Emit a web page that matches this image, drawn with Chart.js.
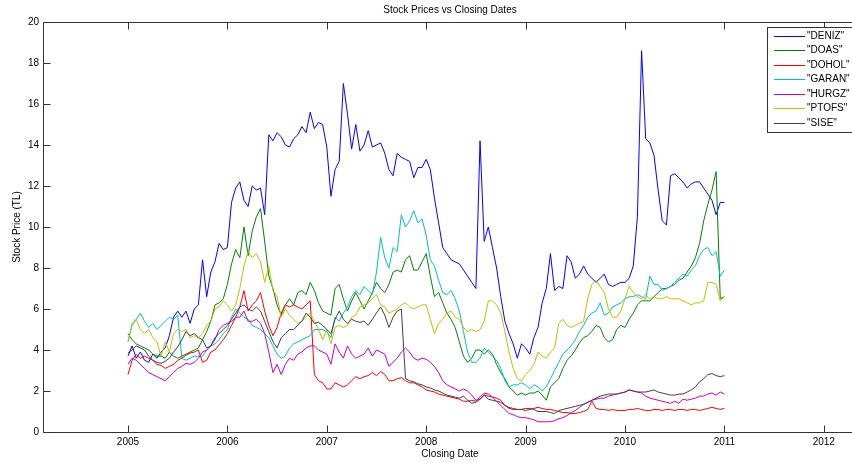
<!DOCTYPE html>
<html>
<head>
<meta charset="utf-8">
<title>Stock Prices vs Closing Dates</title>
<script src="https://cdn.jsdelivr.net/npm/chart.js@4/dist/chart.umd.min.js"></script>
<style>
  html, body { margin: 0; padding: 0; overflow: hidden; background: #fff; }
  #wrap { width: 858px; height: 463px; }
</style>
</head>
<body>
<div id="wrap"><canvas id="myChart"></canvas></div>
<script>
// closing dates as decimal years, one point every half month (Jan 2005 .. Jan 2011)
const closingDates = [];
for (let i = 0; i <= 144; i++) closingDates.push(2005 + i / 24);

const tickYears = [2005, 2006, 2007, 2008, 2009, 2010, 2011, 2012];
const stockNames = ['"DENIZ"', '"DOAS"', '"DOHOL"', '"GARAN"', '"HURGZ"', '"PTOFS"', '"SISE"'];

// prices, 24 values per year + Jan 2011
const deniz = [
  3.7, 4.2, 3.6, 3.9, 3.5, 3.4, 3.8, 3.6, 3.9, 4.1, 4.7, 5.6, 5.9, 5.6, 5.9, 5.3, 6.0, 6.2, 8.4, 6.6, 7.8, 8.3, 9.2, 8.9,
  9.0, 11.2, 11.9, 12.2, 11.3, 11.0, 12.0, 11.8, 11.9, 10.6, 14.5, 14.2, 14.6, 14.4, 14.0, 13.9, 14.3, 14.5, 14.9, 14.6, 15.6, 14.8, 15.1, 15.0,
  13.9, 11.5, 12.8, 13.2, 17.0, 15.5, 13.8, 15.0, 13.7, 14.0, 14.7, 13.9, 14.0, 14.1, 13.6, 12.8, 12.5, 13.6, 13.4, 13.3, 13.2, 12.4, 12.9, 12.9,
  13.3, 12.8, 11.4, 10.2, 9.0, 8.7, 8.4, 8.3, 8.2, 7.9, 7.6, 7.3, 7.0, 14.2, 9.3, 10.0, 9.0, 8.0, 6.6, 5.4, 4.8, 4.3, 3.6, 4.3,
  4.1, 3.8, 4.6, 5.1, 6.3, 7.0, 8.7, 6.9, 7.1, 7.0, 8.6, 8.3, 7.5, 7.7, 8.1, 7.7, 7.5, 7.3, 7.5, 7.7, 7.2, 7.1, 7.2, 7.3,
  7.3, 7.5, 8.1, 10.5, 18.6, 14.3, 14.1, 13.5, 11.8, 10.3, 10.1, 12.5, 12.6, 12.4, 12.2, 11.9, 12.1, 12.2, 12.2, 11.9, 11.6, 11.3, 10.6, 11.2,
  11.2
];
const doas = [
  4.8, 4.5, 4.3, 4.2, 4.1, 4.0, 3.8, 3.7, 3.7, 3.6, 3.9, 3.7, 3.6, 3.7, 3.8, 3.9, 4.0, 4.1, 4.5, 4.9, 5.4, 6.2, 6.3, 6.5,
  7.2, 8.2, 8.9, 8.5, 10.0, 8.6, 9.8, 10.5, 10.9, 9.3, 7.6, 7.0, 6.2, 5.7, 6.2, 6.5, 6.2, 6.8, 6.9, 6.7, 7.3, 6.9, 6.3, 5.9,
  5.8, 5.7, 7.0, 7.2, 6.5, 5.9, 6.4, 6.8, 6.4, 6.0, 6.4, 6.8, 7.3, 7.0, 6.8, 7.2, 7.8, 7.9, 7.8, 8.4, 8.6, 7.9, 7.9, 8.3,
  8.7, 7.6, 6.6, 6.8, 6.3, 5.8, 5.5, 5.1, 4.4, 3.7, 3.4, 3.6, 4.0, 4.0, 3.8, 4.0, 3.8, 3.3, 2.9, 2.6, 2.2, 2.0, 1.8, 1.9,
  1.8, 1.9, 1.9, 2.0, 1.8, 1.55, 2.2, 2.4, 2.6, 3.1, 3.5, 3.7, 4.0, 4.35, 4.6, 4.7, 4.9, 5.2, 5.1, 4.6, 4.4, 4.5, 5.0, 5.2,
  5.1, 5.5, 5.8, 6.2, 6.4, 6.4, 6.4, 6.6, 6.8, 7.0, 7.0, 7.1, 7.2, 7.4, 7.5, 7.8, 8.1, 8.5, 9.2, 10.3, 11.1, 11.8, 12.7, 6.5,
  6.6
];
const dohol = [
  2.8, 3.5, 3.8, 3.6, 3.7, 3.6, 3.5, 3.3, 3.25, 3.1, 3.2, 3.3, 3.5, 3.6, 3.75, 3.85, 3.9, 4.0, 3.4, 3.5, 3.9, 4.0, 4.25, 4.5,
  4.8, 5.2, 5.6, 6.1, 6.9, 5.9, 6.2, 6.4, 6.8, 5.9, 5.2, 4.7, 5.1, 5.8, 6.2, 6.1, 6.2, 6.1, 6.0, 6.2, 6.4, 2.8, 2.5, 2.4,
  2.1, 2.1, 2.4, 2.3, 2.2, 2.3, 2.5, 2.7, 2.6, 2.7, 2.75, 2.9, 2.75, 2.95, 2.8, 2.5, 2.5, 2.6, 2.65, 2.5, 2.4, 2.4, 2.3, 2.2,
  2.05, 2.0, 1.95, 1.85, 1.8, 1.75, 1.7, 1.65, 1.6, 1.5, 1.5, 1.55, 1.5, 1.7, 1.9, 1.85, 1.7, 1.65, 1.55, 1.3, 1.15, 1.1, 1.1, 1.1,
  1.05, 1.1, 1.15, 1.2, 1.15, 1.1, 1.1, 1.05, 1.0, 0.95, 0.95, 0.9, 0.9, 0.95, 1.0, 1.1, 1.5, 1.15, 1.1, 1.1, 1.05, 1.1, 1.05, 1.05,
  1.05, 1.1, 1.1, 1.15, 1.1, 1.05, 1.05, 1.1, 1.1, 1.05, 1.1, 1.1, 1.05, 1.1, 1.1, 1.05, 1.1, 1.1, 1.05, 1.1, 1.15, 1.2, 1.15, 1.1,
  1.15
];
const garan = [
  4.4, 5.2, 5.5, 5.8, 5.4, 5.1, 5.3, 5.0, 5.2, 5.4, 5.6, 5.5, 5.7, 3.6, 3.5, 3.6, 3.7, 3.7, 3.7, 4.0, 4.2, 4.3, 4.5, 4.8,
  5.0, 5.6, 6.0, 5.8, 5.6, 5.5, 5.2, 5.1, 5.0, 4.8, 4.6, 4.2, 3.8, 3.6, 3.7, 4.1, 4.3, 4.4, 4.5, 4.6, 4.7, 5.0, 5.0, 5.0,
  4.9, 4.6, 5.6, 5.4, 5.8, 6.1, 6.6, 6.9, 6.7, 7.1, 6.9, 6.7, 7.8, 9.5, 8.5, 8.0, 9.0, 8.8, 10.6, 10.0, 10.3, 10.8, 10.2, 10.4,
  9.6, 8.4, 8.1, 7.4, 6.8, 6.7, 6.9, 6.5, 5.9, 4.9, 3.9, 3.4, 3.4, 3.6, 4.1, 3.9, 3.7, 3.5, 3.1, 2.5, 2.2, 2.3, 2.3, 2.4,
  2.3, 2.1, 2.3, 2.2, 2.0, 2.2, 2.6, 3.0, 3.4, 3.8, 4.0, 4.2, 4.5, 4.9, 5.2, 5.6, 5.8, 5.9, 6.3, 5.7, 5.8, 6.1, 6.2, 6.3,
  6.5, 6.6, 6.6, 6.7, 6.6, 6.5, 7.6, 7.2, 7.2, 6.9, 7.0, 7.1, 7.3, 7.5, 7.7, 7.6, 7.9, 8.1, 8.6, 8.9, 9.0, 8.6, 8.8, 7.6,
  7.9
];
const hurgz = [
  3.3, 3.6, 3.5, 3.3, 3.1, 2.9, 2.8, 2.7, 2.6, 2.5, 2.7, 2.9, 3.1, 3.2, 3.35, 3.3, 3.4, 3.6, 3.9, 4.0, 4.2, 4.5, 5.0, 5.2,
  5.3, 5.4, 5.6, 5.6, 5.9, 5.4, 5.4, 5.5, 5.3, 4.8, 3.9, 2.9, 3.3, 2.8, 3.3, 3.6, 3.5, 3.8, 3.9, 4.1, 4.2, 4.2, 4.0, 3.9,
  3.8, 3.3, 4.3, 3.9, 3.6, 4.2, 3.8, 3.6, 3.7, 3.8, 4.1, 3.7, 4.0, 3.9, 3.8, 3.2, 3.4, 3.6, 3.9, 4.1, 3.9, 3.6, 3.5, 3.6,
  3.55, 3.4, 3.2, 2.9, 2.5, 2.3, 2.2, 2.1, 2.0, 2.1, 2.0, 1.8, 1.55, 1.6, 1.8, 1.75, 1.7, 1.5, 1.3, 1.1, 0.9, 0.85, 0.75, 0.7,
  0.7, 0.65, 0.6, 0.5, 0.5, 0.5, 0.5, 0.55, 0.65, 0.7, 0.8, 0.95, 1.05, 1.2, 1.35, 1.45, 1.55, 1.6, 1.65, 1.65, 1.75, 1.8, 1.85, 1.9,
  1.95, 2.05, 2.0, 1.95, 1.9, 1.75, 1.65, 1.6, 1.55, 1.5, 1.45, 1.4, 1.5, 1.4, 1.6, 1.55, 1.6, 1.65, 1.75, 1.75, 1.85, 1.9, 1.8, 1.95,
  1.85
];
const ptofs = [
  4.4, 5.3, 5.5, 5.0, 4.8, 5.0, 4.6, 4.4, 3.7, 4.4, 3.9, 4.8, 5.0, 4.9, 5.0, 4.6, 4.7, 4.6, 4.8, 5.2, 5.4, 6.0, 6.1, 6.4,
  6.2, 5.9, 6.2, 7.0, 8.1, 8.8, 8.5, 8.7, 8.3, 7.3, 8.1, 6.9, 6.6, 5.6, 6.0, 5.7, 5.5, 5.3, 5.4, 5.6, 5.8, 5.4, 5.0, 4.5,
  5.0, 4.3, 5.1, 5.2, 5.1, 5.2, 5.6, 5.7, 6.1, 6.2, 6.3, 6.5, 6.7, 6.2, 6.1, 5.8, 5.9, 6.0, 6.2, 6.3, 6.1, 6.0, 6.1, 6.2,
  6.2, 5.5, 4.8, 5.3, 5.5, 5.8, 5.9, 5.6, 5.5, 5.1, 4.9, 5.0, 4.9, 5.0, 5.4, 6.4, 6.4, 6.2, 5.8, 4.9, 3.9, 3.1, 2.6, 2.5,
  2.8, 3.0, 3.3, 3.9, 3.7, 3.6, 3.9, 4.1, 5.3, 5.5, 5.2, 5.1, 5.2, 5.3, 5.4, 6.5, 7.2, 7.4, 7.1, 6.8, 6.0, 5.6, 5.6, 5.9,
  6.5, 7.1, 6.8, 6.6, 6.5, 6.7, 6.5, 6.6, 6.5, 6.5, 6.6, 6.5, 6.5, 6.5, 6.4, 6.3, 6.2, 6.3, 6.3, 6.4, 7.3, 7.3, 7.2, 6.4,
  6.6
];
const sise = [
  3.85, 4.0, 4.2, 4.1, 4.0, 3.7, 3.5, 3.4, 3.35, 3.45, 3.6, 3.9, 4.15, 4.5, 4.9, 4.7, 4.8, 4.6, 4.5, 4.1, 4.2, 4.6, 4.8, 5.0,
  5.2, 5.5, 5.8, 6.1, 6.2, 6.0, 5.9, 6.1, 5.9, 5.4, 4.9, 4.4, 4.1, 4.6, 4.8, 5.0, 5.0, 5.2, 5.4, 5.8, 5.6, 5.3, 5.35, 5.2,
  5.0, 4.8, 5.5, 5.9, 5.5, 5.3, 5.5, 5.4, 5.35, 5.4, 5.2, 5.5, 5.8, 6.1, 5.7, 5.1, 5.6, 5.9, 6.0, 2.6, 2.5, 2.45, 2.35, 2.3,
  2.2, 2.15, 2.05, 2.0, 1.9, 1.8, 1.75, 1.7, 1.65, 1.75, 1.55, 1.4, 1.45, 1.6, 1.8, 1.6, 1.55, 1.5, 1.45, 1.3, 1.2, 1.15, 1.1, 1.1,
  1.15, 1.15, 1.1, 1.0, 1.0, 1.0, 0.95, 0.9, 1.05, 1.1, 1.15, 1.2, 1.25, 1.3, 1.35, 1.45, 1.55, 1.65, 1.75, 1.8, 1.85, 1.85, 1.85, 1.9,
  1.95, 2.05, 2.0, 1.95, 1.95, 1.95, 2.0, 2.05, 1.95, 1.9, 1.85, 1.8, 1.8, 1.85, 1.85, 1.95, 2.05, 2.2, 2.45, 2.6, 2.8, 2.85, 2.75, 2.7,
  2.75
];

const seriesValues = [deniz, doas, dohol, garan, hurgz, ptofs, sise];
const seriesColors = ['#0000FF', '#008000', '#FF0000', '#00BFBF', '#BF00BF', '#BFBF00', '#404040'];

const FONT = '"Liberation Sans", Arial, Helvetica, sans-serif';
Chart.defaults.font.family = FONT;
Chart.defaults.font.size = 10;
Chart.defaults.color = '#000';

// matlab style box, inner ticks, titles and legend
const matlabFrame = {
  id: 'matlabFrame',
  afterDraw(chart) {
    let ctx = chart.ctx;
    let ca = chart.chartArea;
    let xs = chart.scales.x;
    let ys = chart.scales.y;
    let top = Math.round(ca.top) + 0.5;
    let bottom = Math.round(ca.bottom) + 0.5;
    let left = Math.round(ca.left) + 0.5;

    ctx.save();
    ctx.strokeStyle = '#333';
    ctx.lineWidth = 1;
    ctx.beginPath();
    ctx.moveTo(left, top); ctx.lineTo(ca.right, top);
    ctx.moveTo(left, top); ctx.lineTo(left, bottom);
    ctx.moveTo(left, bottom); ctx.lineTo(ca.right, bottom);

    xs.ticks.forEach(t => {
      let px = Math.round(xs.getPixelForValue(t.value)) + 0.5;
      ctx.moveTo(px, bottom); ctx.lineTo(px, bottom - 7);
      ctx.moveTo(px, top); ctx.lineTo(px, top + 7);
    });
    ys.ticks.forEach(t => {
      let py = Math.round(ys.getPixelForValue(t.value)) + 0.5;
      ctx.moveTo(left, py); ctx.lineTo(left + 7, py);
    });
    ctx.stroke();

    // titles
    ctx.fillStyle = '#000';
    ctx.font = '10px ' + FONT;
    ctx.textAlign = 'center';
    ctx.textBaseline = 'middle';
    let cx = (ca.left + ca.right) / 2;
    ctx.fillText('Stock Prices vs Closing Dates', cx, 10.5);
    ctx.fillText('Closing Date', cx, 454);
    ctx.save();
    ctx.translate(17.5, (ca.top + ca.bottom) / 2);
    ctx.rotate(-Math.PI / 2);
    ctx.fillText('Stock Price (TL)', 0, 0);
    ctx.restore();

    // legend box
    let lx = 767.5, ly = 27.5, lw = 100, lh = 105;
    ctx.fillStyle = '#fff';
    ctx.fillRect(lx, ly, lw, lh);
    ctx.strokeStyle = '#333';
    ctx.strokeRect(lx, ly, lw, lh);
    ctx.textAlign = 'left';
    chart.data.datasets.forEach((ds, i) => {
      let y = Math.round(35.7 + i * 14.5) + 0.5;
      ctx.strokeStyle = ds.borderColor;
      ctx.beginPath();
      ctx.moveTo(774, y); ctx.lineTo(805, y);
      ctx.stroke();
      ctx.fillStyle = '#000';
      ctx.fillText(ds.label, 807, y);
    });
    ctx.restore();
  }
};

let ctx = document.getElementById('myChart').getContext('2d');
let myChart = new Chart(ctx, {
  type: 'line',
  data: {
    datasets: stockNames.map((name, i) => ({
      label: name,
      data: closingDates.map((d, k) => ({ x: d, y: seriesValues[i][k] })),
      borderColor: seriesColors[i],
      borderWidth: 1,
      pointRadius: 0,
      tension: 0,
      fill: false,
      order: stockNames.length - i // later stocks drawn on top, like matlab
    }))
  },
  options: {
    responsive: true,
    maintainAspectRatio: false,
    devicePixelRatio: 1,
    animation: false,
    layout: { padding: { top: 22, right: 1, left: 0, bottom: 0 } },
    plugins: {
      legend: { display: false },
      tooltip: { enabled: false }
    },
    scales: {
      x: {
        type: 'linear',
        min: 2004.145,
        max: 2012.334,
        afterFit: s => { s.height = 31; },
        afterBuildTicks: s => { s.ticks = tickYears.map(v => ({ value: v })); },
        grid: { display: false, drawTicks: false },
        border: { display: false },
        ticks: {
          padding: 4,
          maxRotation: 0,
          autoSkip: false,
          callback: v => String(v)
        }
      },
      y: {
        min: 0,
        max: 20,
        afterFit: s => { s.width = 43; },
        grid: { display: false, drawTicks: false },
        border: { display: false },
        ticks: { stepSize: 2, padding: 4 }
      }
    }
  },
  plugins: [matlabFrame]
});
</script>
</body>
</html>
